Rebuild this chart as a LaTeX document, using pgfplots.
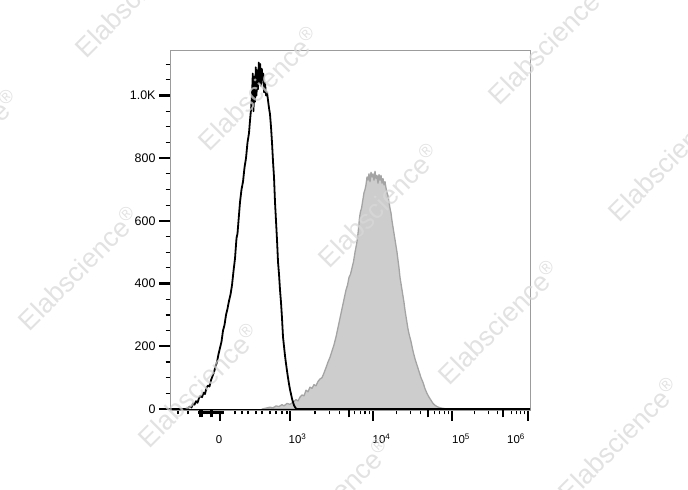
\documentclass[border=0pt]{standalone}
\usepackage{fontspec}
\setmainfont{Liberation Sans}
\usepackage{pgfplots}
\pgfplotsset{compat=1.18}

\definecolor{framegray}{HTML}{9C9C9C}
\definecolor{fillgray}{HTML}{CDCDCD}
\definecolor{edgegray}{HTML}{A4A4A4}
\definecolor{wmark}{HTML}{D8D8D8}

% x is the display channel of the biexponential scale (0 at 220, 10^3 at 290, ...)
\begin{document}
\begin{tikzpicture}[x=1bp,y=1bp]
\useasboundingbox (0,0) rectangle (688,490);
\begin{axis}[
    at={(170bp,80bp)}, anchor=south west,
    scale only axis, width=360bp, height=360bp,
    xmin=170, xmax=530, ymin=-3, ymax=1145,
    axis line style={framegray, line width=0.9bp},
    tick align=outside, tick pos=left,
    major tick length=11bp, minor tick length=4.5bp,
    tick style={black, line width=1.1bp},
    major tick style={black, line width=2.3bp},
    minor tick style={black, line width=1.1bp},
    xtick={220,290,373,452,528},
    xticklabels={0\hspace*{2bp},
                 \hspace*{15bp}10\textsuperscript{3},
                 \hspace*{17bp}10\textsuperscript{4},
                 \hspace*{18bp}10\textsuperscript{5},
                 10\textsuperscript{6}\hspace*{24bp}},
    minor xtick={178,188,199,200.5,202,203.5,205,206.5,208,209.5,211,212.5,214,215.5,217,218.5,221.5,223,
                 235,242,248,256,262,270,276,282,287,
                 315,329.6,339.9,354.6,360.2,365,369.2,
                 396.8,410.7,420.6,434.5,439.8,444.4,448.5,
                 474.9,488.3,497.8,511.1,516.2,520.6,524.5},
    extra x ticks={200,202,211,212.5,349,428,503},
    extra x tick labels={},
    extra x tick style={major tick length=7.5bp, major tick style={line width=1.4bp}},
    ytick={0,200,400,600,800,1000},
    yticklabels={0,200,400,600,800,1.0K},
    minor ytick={50,100,150,250,300,350,450,500,550,650,700,750,850,900,950,1050,1100},
    yticklabel style={font=\fontsize{12.5}{14}\selectfont, xshift=0bp},
    xticklabel style={font=\fontsize{11.5}{13}\selectfont, text height=12bp, text depth=0bp, yshift=-7bp},
]

% stained sample (filled)
\addplot[fill=fillgray, draw=edgegray, line width=1.3bp, line join=round] coordinates {
(262,0) (266,3) (270,6) (273,4) (276,10) (279,8) (282,14) (284,10) (287,18) (290,15)
(293,22) (296,30) (298,26) (300,38) (302,45) (304,42) (306,60) (308,55) (310,70) (312,66)
(314,78) (316,74) (318,88) (320,96) (322,100) (324,115) (326,132) (328,150) (330,165) (332,185)
(334,205) (336,230) (338,260) (340,290) (342,320) (344,350) (346,380) (347.5,395) (349,420) (350.5,430)
(352,450) (353.5,470) (355,500) (356.5,525) (357.5,545) (358.5,575) (359.5,610) (360.5,630) (361.5,640) (362.5,660)
(364,690) (365,700) (366,715) (367,740) (368,730) (369,750) (370,725) (371,755) (372,740) (373,750)
(374,730) (375,758) (376,735) (377,745) (378,720) (379,748) (380,730) (381,745) (382,720) (383,735)
(384,715) (385,725) (386,705) (387,690) (388,680) (389,660) (390,640) (391,625) (392,600) (393,580)
(394,560) (395,540) (396,520) (397,500) (398,475) (399,450) (400,420) (401,400) (402,380) (403,360)
(404,340) (405,315) (406,295) (407,275) (408,255) (409,240) (411,215) (413,185) (415,160) (417,140)
(419,120) (421,100) (423,85) (425,65) (427,50) (429,38) (431,28) (433,18) (435,12) (437,8)
(440,4) (445,1) (450,0)
} \closedcycle;

% control (line)
\addplot[black, line width=1.8bp, line join=round] coordinates {
(170,0) (186,0) (188,3) (190,8) (191.5,5) (193,18) (194.5,14) (196,25) (197.5,20) (199,35)
(200.5,42) (202,38) (203.5,52) (205,48) (206.5,68) (208,75) (209.5,72) (211,92) (212.5,105) (214,118)
(215.5,135) (217,150) (218.5,175) (220,195) (221.5,215) (223,250) (224.5,268) (226,300) (227.5,320) (229,345)
(230.5,365) (232,395) (233.5,440) (235,480) (236.5,545) (237.5,560) (238.5,600) (240,660) (241.5,700) (243,725)
(244.5,770) (246,800) (247.5,850) (249,880) (250,920) (251,955) (252,1000) (252.8,1070) (253.5,950) (254.2,1060)
(255,980) (255.8,1090) (256.5,1000) (257.2,1080) (258,1020) (258.8,1105) (259.5,1040) (260.2,1100) (261,1030) (261.8,1085)
(262.5,1050) (263.3,1070) (264,1010) (265,1040) (266,1000) (267,1010) (268,985) (269,960) (270,940) (271,900)
(272,850) (273,790) (274,740) (275,660) (276,600) (277,540) (278,470) (279,430) (280,380) (281,340)
(282,290) (283,230) (284,200) (285,170) (286,145) (287,122) (288,100) (289,80) (290,62) (291,48)
(292,33) (293,22) (294,12) (295,6) (296,2) (297,0) (530,0)
};

\draw[black, line width=1.8bp] (rel axis cs:0,0) -- (rel axis cs:1,0);
\end{axis}

% watermark
\begin{scope}[every node/.style={rotate=45, text=wmark, opacity=0.75,
      font=\fontsize{27}{30}\selectfont}]
  \node at (135,495) {Elabscience\textsuperscript{\textregistered}};
  \node at (-42,339) {Elabscience\textsuperscript{\textregistered}};
  \node at (258,402) {Elabscience\textsuperscript{\textregistered}};
  \node at (548,448) {Elabscience\textsuperscript{\textregistered}};
  \node at (78,222) {Elabscience\textsuperscript{\textregistered}};
  \node at (378,285) {Elabscience\textsuperscript{\textregistered}};
  \node at (668,331) {Elabscience\textsuperscript{\textregistered}};
  \node at (498,168) {Elabscience\textsuperscript{\textregistered}};
  \node at (198,105) {Elabscience\textsuperscript{\textregistered}};
  \node at (618,51) {Elabscience\textsuperscript{\textregistered}};
  \node at (330,-10) {Elabscience\textsuperscript{\textregistered}};
\end{scope}
\end{tikzpicture}
\end{document}
